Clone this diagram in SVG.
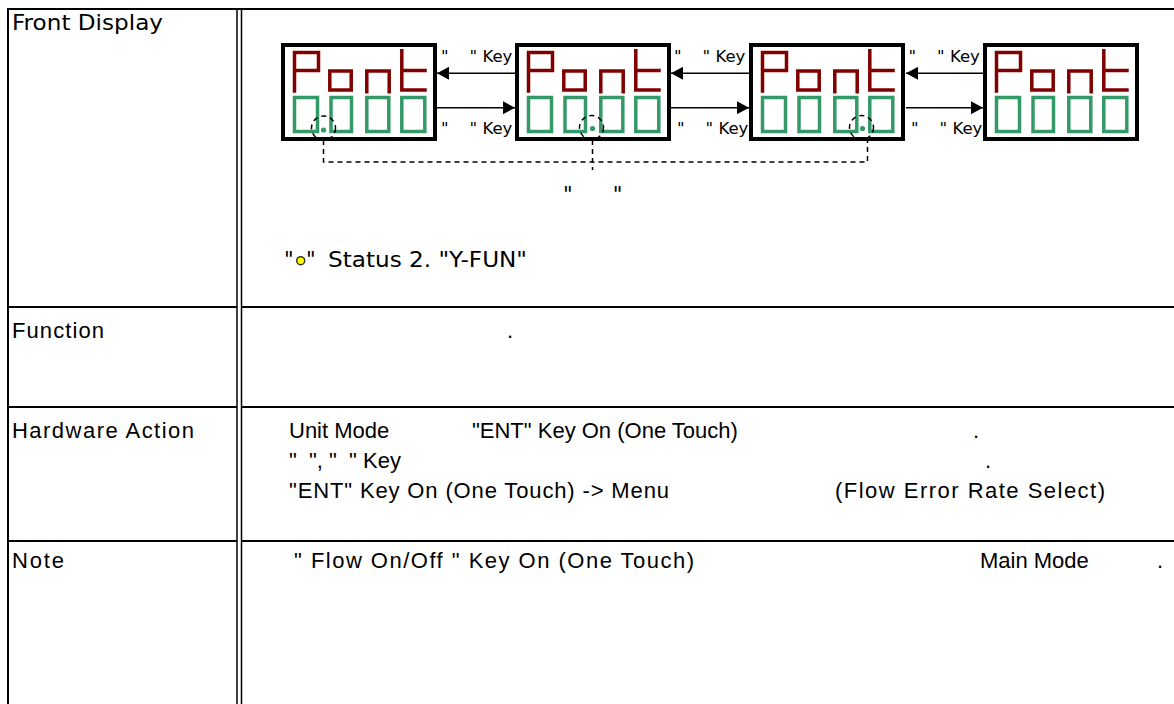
<svg xmlns="http://www.w3.org/2000/svg" xmlns:xlink="http://www.w3.org/1999/xlink" width="1174" height="704" viewBox="0 0 1174 704">
  <style>
    .rule{stroke:#000;stroke-width:2;fill:none}
    .rule-thin{stroke:#000;stroke-width:1.5;fill:none}
    .lbl{font-family:"DejaVu Sans",Verdana,sans-serif;font-size:21px;fill:#000}
    .txt{font-family:"Liberation Sans",Arial,sans-serif;font-size:22px;fill:#000}
    .key{font-family:"DejaVu Sans",Verdana,sans-serif;font-size:16.5px;fill:#000;white-space:pre}
    .frame{fill:#fff;stroke:#000;stroke-width:4}
    .seg-r{fill:none;stroke:#800000;stroke-width:3.5;stroke-linecap:square}
    .seg-g{fill:none;stroke:#339966;stroke-width:3.5}
    .dp{fill:#339966}
    .dash{fill:none;stroke:#000;stroke-width:1.5;stroke-dasharray:5 4}
    .arrow{stroke:#000;stroke-width:1.5;fill:none;marker-end:url(#head)}
  </style>
  <defs>
    <marker id="head" viewBox="0 0 12 13" markerWidth="12" markerHeight="13" refX="12" refY="6.5" orient="auto" markerUnits="userSpaceOnUse">
      <path d="M0,0 L12,6.5 L0,13 Z" fill="#000"/>
    </marker>
    <!-- one LED display panel: "Pont" on top, four digit cells below -->
    <g id="panel">
      <rect class="frame" x="2" y="2" width="152" height="94"/>
      <path class="seg-r" d="M13.5,48 V9.5 H37.5 V27.5 H13.5"/>
      <rect class="seg-r" x="48.8" y="28" width="21.4" height="19"/>
      <path class="seg-r" d="M85.8,48.7 V28 H108.2 V48.7"/>
      <path class="seg-r" d="M120.8,7.7 V47 H144 M120.8,27.5 H144"/>
      <rect class="seg-g" x="13.5" y="54.5" width="23" height="34"/>
      <rect class="seg-g" x="50" y="54.5" width="20.5" height="34"/>
      <rect class="seg-g" x="85.8" y="54.5" width="22" height="34"/>
      <rect class="seg-g" x="120.8" y="54.5" width="23" height="34"/>
    </g>
  </defs>

  <rect x="0" y="0" width="1174" height="704" fill="#fff"/>

  <!-- table grid -->
  <g id="grid">
    <line class="rule" x1="7" y1="9" x2="1174" y2="9"/>
    <line class="rule" x1="8" y1="9" x2="8" y2="704"/>
    <line class="rule-thin" x1="237" y1="9" x2="237" y2="704"/>
    <line class="rule-thin" x1="241.5" y1="9" x2="241.5" y2="704"/>
    <line class="rule" x1="8" y1="307" x2="237" y2="307"/>
    <line class="rule" x1="241.5" y1="307" x2="1174" y2="307"/>
    <line class="rule" x1="8" y1="407" x2="237" y2="407"/>
    <line class="rule" x1="241.5" y1="407" x2="1174" y2="407"/>
    <line class="rule" x1="8" y1="541" x2="237" y2="541"/>
    <line class="rule" x1="241.5" y1="541" x2="1174" y2="541"/>
  </g>

  <!-- row labels -->
  <g id="labels">
    <text class="lbl" x="12" y="30" textLength="151" lengthAdjust="spacingAndGlyphs">Front Display</text>
    <text class="txt" x="12" y="338" textLength="92" lengthAdjust="spacing">Function</text>
    <text class="txt" x="12" y="438" textLength="182" lengthAdjust="spacing">Hardware Action</text>
    <text class="txt" x="12" y="568" textLength="52" lengthAdjust="spacing">Note</text>
  </g>

  <!-- display panels -->
  <g id="display-1" transform="translate(281 43)">
    <use xlink:href="#panel" href="#panel"/>
    <circle class="dp" cx="42.5" cy="87" r="2.6"/>
  </g>
  <g id="display-2" transform="translate(515 43)">
    <use xlink:href="#panel" href="#panel"/>
    <circle class="dp" cx="77.5" cy="85.5" r="2.6"/>
  </g>
  <g id="display-3" transform="translate(749 43)">
    <use xlink:href="#panel" href="#panel"/>
    <circle class="dp" cx="113.5" cy="85.5" r="2.6"/>
  </g>
  <g id="display-4" transform="translate(983 43)">
    <use xlink:href="#panel" href="#panel"/>
  </g>

  <!-- connectors -->
  <g id="connectors">
    <line class="arrow" x1="515" y1="73.3" x2="437" y2="73.3"/>
    <line class="arrow" x1="437" y1="107.7" x2="515" y2="107.7"/>
    <line class="arrow" x1="749" y1="73.3" x2="671" y2="73.3"/>
    <line class="arrow" x1="671" y1="107.7" x2="749" y2="107.7"/>
    <line class="arrow" x1="983" y1="73.3" x2="906" y2="73.3"/>
    <line class="arrow" x1="906" y1="107.7" x2="983" y2="107.7"/>

    <circle class="dash" cx="323.5" cy="128" r="12"/>
    <circle class="dash" cx="591.5" cy="127.5" r="12"/>
    <circle class="dash" cx="861.5" cy="127.5" r="12"/>
    <path class="dash" d="M323.5,140 V162 H867.5 V140"/>
    <path class="dash" d="M592.5,140 V170"/>
  </g>

  <!-- key labels on the arrows -->
  <g id="key-labels">
    <text class="key" xml:space="preserve" x="441" y="62">"    " Key</text>
    <text class="key" xml:space="preserve" x="441" y="134">"    " Key</text>
    <text class="key" xml:space="preserve" x="674" y="62">"    " Key</text>
    <text class="key" xml:space="preserve" x="677" y="134">"    " Key</text>
    <text class="key" xml:space="preserve" x="908.5" y="62">"    " Key</text>
    <text class="key" xml:space="preserve" x="911" y="134">"    " Key</text>
  </g>

  <!-- front display notes -->
  <g id="display-notes">
    <text class="lbl" xml:space="preserve" x="563" y="202">"      "</text>
    <text class="lbl" x="284" y="267">"</text>
    <circle cx="300.7" cy="260.7" r="4" fill="#ffff00" stroke="#333" stroke-width="1.5"/>
    <text class="lbl" x="306" y="267">"</text>
    <text class="lbl" x="328" y="267" textLength="199" lengthAdjust="spacingAndGlyphs">Status 2. "Y-FUN"</text>
  </g>

  <!-- function row -->
  <g id="function-text">
    <text class="txt" x="507" y="338">.</text>
  </g>

  <!-- hardware action row -->
  <g id="hardware-text">
    <text class="txt" x="289" y="438">Unit Mode</text>
    <text class="txt" x="472" y="438">"ENT" Key On (One Touch)</text>
    <text class="txt" x="973" y="438">.</text>
    <text class="txt" xml:space="preserve" x="289" y="468">"  ", "  " Key</text>
    <text class="txt" x="985" y="468">.</text>
    <text class="txt" x="289" y="498" textLength="380" lengthAdjust="spacing">"ENT" Key On (One Touch) -&gt; Menu</text>
    <text class="txt" x="835" y="498" textLength="270" lengthAdjust="spacing">(Flow Error Rate Select)</text>
  </g>

  <!-- note row -->
  <g id="note-text">
    <text class="txt" x="294" y="568" textLength="400" lengthAdjust="spacing">" Flow On/Off " Key On (One Touch)</text>
    <text class="txt" x="980" y="568">Main Mode</text>
    <text class="txt" x="1157" y="568">.</text>
  </g>
</svg>
